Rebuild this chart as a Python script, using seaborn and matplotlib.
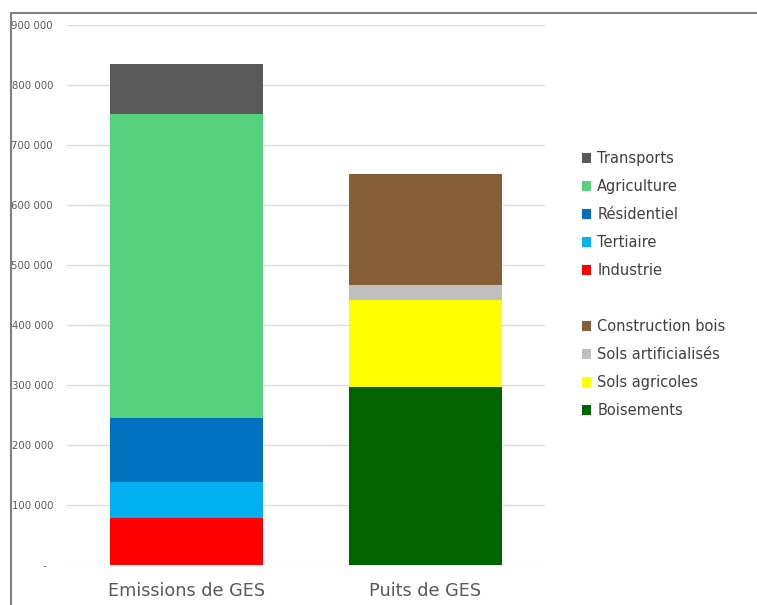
import matplotlib
matplotlib.use("Agg")
import matplotlib.pyplot as plt
import seaborn as sns
import numpy as np
from matplotlib.patches import Patch
from matplotlib.lines import Line2D

categories = ["Emissions de GES", "Puits de GES"]

emis_series = ["Industrie", "Tertiaire", "Résidentiel", "Agriculture", "Transports"]
emis_values = [79000, 60000, 106000, 506000, 84000]
emis_colors = ["#FF0000", "#00B0F0", "#0070C0", "#55D27B", "#595959"]

puits_series = ["Boisements", "Sols agricoles", "Sols artificialisés", "Construction bois"]
puits_values = [297000, 145000, 25000, 185000]
puits_colors = ["#006400", "#FFFF00", "#BFBFBF", "#865E36"]

yticks = [0, 100000, 200000, 300000, 400000, 500000, 600000, 700000, 800000, 900000]
ytick_labels = ["-  ", "100 000", "200 000", "300 000", "400 000", "500 000",
                "600 000", "700 000", "800 000", "900 000"]

sns.set_theme(style="white")
plt.rcParams["font.family"] = ["DejaVu Sans"]

fig = plt.figure(figsize=(7.57, 6.05), dpi=100)
W, H = 757, 605
ax = fig.add_axes([67 / W, 1 - 565 / H, (545 - 67) / W, (565 - 25) / H])

def draw_stack(cat, series, values, colors):
    cum = np.cumsum(values)
    # paint from the top layer down so each lower layer covers the upper
    for name, top, col in reversed(list(zip(series, cum, colors))):
        sns.barplot(x=[cat], y=[top], order=categories, color=col,
                    saturation=1, width=0.64, linewidth=0, ax=ax, zorder=3)

draw_stack(categories[0], emis_series, emis_values, emis_colors)
draw_stack(categories[1], puits_series, puits_values, puits_colors)

ax.set_ylim(0, 900000)
ax.set_xlim(-0.5, 1.5)
ax.set_yticks(yticks)
ax.set_yticklabels(ytick_labels)
ax.yaxis.grid(True, color="#DDDDDD", linewidth=1, zorder=0)
ax.set_axisbelow(True)
for s in ax.spines.values():
    s.set_visible(False)
ax.tick_params(axis="y", length=0, pad=10, labelsize=7.3, labelcolor="#595959")
ax.tick_params(axis="x", length=0, pad=12, labelsize=12.7, labelcolor="#595959")
ax.set_xlabel("")
ax.set_ylabel("")

# frame lines (top and left)
fig.add_artist(Line2D([11 / W, 1], [1 - 13 / H, 1 - 13 / H], color="#808080", linewidth=1.5,
                      transform=fig.transFigure))
fig.add_artist(Line2D([11 / W, 11 / W], [1 - 13 / H, 0], color="#808080", linewidth=1.5,
                      transform=fig.transFigure))

leg_kw = dict(frameon=False, fontsize=10.5, handlelength=0.65, handleheight=0.65,
              handletextpad=0.4, labelspacing=0.89, labelcolor="#404040",
              borderpad=0, borderaxespad=0, loc="upper left")

h1 = [Patch(facecolor=c, edgecolor="none") for c in reversed(emis_colors)]
fig.legend(h1, list(reversed(emis_series)), bbox_to_anchor=(582 / W, 1 - 151 / H), **leg_kw)
h2 = [Patch(facecolor=c, edgecolor="none") for c in reversed(puits_colors)]
fig.legend(h2, list(reversed(puits_series)), bbox_to_anchor=(582 / W, 1 - 319 / H), **leg_kw)

fig.savefig("out.png", dpi=100)
